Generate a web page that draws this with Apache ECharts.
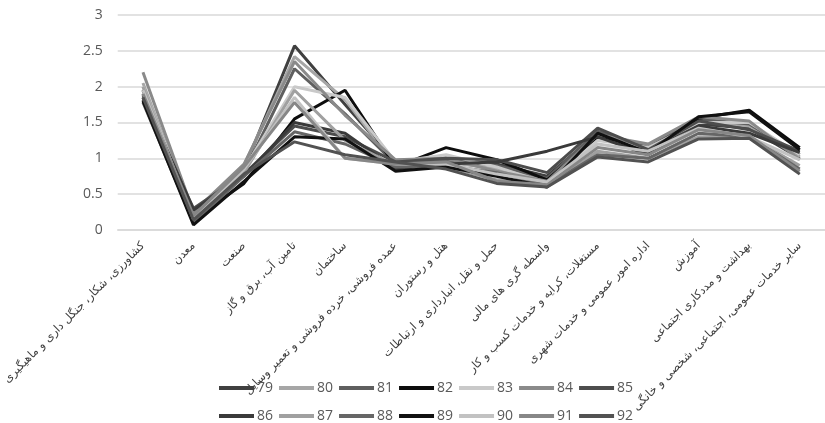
<!DOCTYPE html>
<html>
<head>
<meta charset="utf-8">
<script src="https://cdn.jsdelivr.net/npm/echarts@6/dist/echarts.min.js"></script>
<style>html,body{margin:0;padding:0;background:#fff}#c{width:825px;height:423px}</style>
</head>
<body>
<div id="c"></div>
<script>
const categories = [
  'کشاورزی، شکار، جنگل داری و ماهیگیری',
  'معدن',
  'صنعت',
  'تامین آب، برق و گاز',
  'ساختمان',
  'عمده فروشی، خرده فروشی و تعمیر وسایل',
  'هتل و رستوران',
  'حمل و نقل، انبارداری و ارتباطات',
  'واسطه گری های مالی',
  'مستغلات، کرایه و خدمات کسب و کار',
  'اداره امور عمومی و خدمات شهری',
  'آموزش',
  'بهداشت و مددکاری اجتماعی',
  'سایر خدمات عمومی، اجتماعی، شخصی و خانگی'
];
const seriesNames = ['79','80','81','82','83','84','85','86','87','88','89','90','91','92'];
const s79 = [1.85, 0.25, 0.85, 2.57, 1.75, 0.95, 1.00, 0.92, 0.75, 1.35, 1.12, 1.48, 1.42, 1.00];
const s80 = [2.05, 0.20, 0.90, 2.42, 1.82, 0.90, 0.95, 0.85, 0.70, 1.28, 1.18, 1.52, 1.45, 1.02];
const s81 = [1.90, 0.22, 0.80, 2.25, 1.62, 0.92, 0.98, 0.90, 0.72, 1.38, 1.15, 1.55, 1.48, 1.05];
const s82 = [1.95, 0.15, 0.65, 1.55, 1.95, 0.88, 1.15, 0.98, 0.70, 1.30, 1.10, 1.56, 1.67, 1.15];
const s83 = [2.00, 0.18, 0.85, 2.00, 1.85, 0.95, 1.05, 0.88, 0.65, 1.25, 1.15, 1.50, 1.50, 1.05];
const s84 = [2.20, 0.25, 0.92, 2.35, 1.60, 0.98, 1.00, 0.82, 0.68, 1.33, 1.20, 1.58, 1.52, 0.98];
const s85 = [1.82, 0.30, 0.78, 1.45, 1.30, 0.95, 1.00, 0.98, 0.80, 1.42, 1.12, 1.52, 1.40, 1.10];
const s86 = [1.88, 0.28, 0.75, 1.50, 1.35, 0.85, 0.92, 0.95, 1.10, 1.30, 1.05, 1.45, 1.35, 1.08];
const s87 = [2.00, 0.12, 0.80, 1.95, 1.25, 0.90, 0.88, 0.70, 0.60, 1.10, 1.00, 1.30, 1.30, 0.90];
const s88 = [1.78, 0.10, 0.75, 1.37, 1.20, 0.88, 0.90, 0.80, 0.62, 1.05, 1.00, 1.35, 1.30, 0.85];
const s89 = [1.80, 0.07, 0.68, 1.30, 1.27, 0.82, 0.88, 0.75, 0.60, 1.35, 1.08, 1.58, 1.65, 1.12];
const s90 = [1.95, 0.15, 0.85, 1.85, 1.00, 0.92, 0.92, 0.78, 0.67, 1.20, 1.10, 1.42, 1.30, 0.98];
const s91 = [1.90, 0.20, 0.88, 1.78, 1.00, 0.92, 0.95, 0.68, 0.63, 1.15, 1.05, 1.40, 1.32, 0.82];
const s92 = [1.85, 0.14, 0.78, 1.23, 1.05, 0.95, 0.85, 0.65, 0.60, 1.02, 0.95, 1.27, 1.28, 0.78];
const seriesValues = [s79,s80,s81,s82,s83,s84,s85,s86,s87,s88,s89,s90,s91,s92];
const colors = ['#404040','#a6a6a6','#5f5f5f','#0d0d0d','#c9c9c9','#8a8a8a','#4d4d4d',
                '#3a3a3a','#a0a0a0','#666666','#111111','#c2c2c2','#878787','#525252'];
const yTicks = [0, 0.5, 1, 1.5, 2, 2.5, 3];

const chart = echarts.init(document.getElementById('c'), null, {renderer:'canvas'});
const legendCommon = {
  icon: 'rect', itemWidth: 35, itemHeight: 4, itemGap: 6,
  textStyle: {color:'#595959', fontSize: 14, fontFamily: 'Open Sans, DejaVu Sans', padding:[0,0,0,-2]},
  selectedMode: false
};
chart.setOption({
  animation: false,
  color: colors,
  grid: {left: 115, right: -15, top: 15, bottom: 193},
  legend: [
    Object.assign({data: seriesNames.slice(0,7), left: 214, top: 376}, legendCommon),
    Object.assign({data: seriesNames.slice(7), left: 214, top: 404}, legendCommon)
  ],
  xAxis: {
    type: 'category', data: categories, boundaryGap: true,
    axisLine: {show: true, lineStyle: {color: '#d9d9d9', width: 1.5}},
    axisTick: {show: false},
    axisLabel: {interval: 0, rotate: 45, margin: 14, color: '#404040', fontSize: 11.5,
      fontFamily: 'DejaVu Sans'}
  },
  yAxis: {
    type: 'value', min: yTicks[0], max: yTicks[yTicks.length-1], interval: 0.5,
    axisLine: {show: false}, axisTick: {show: false},
    axisLabel: {color: '#595959', fontSize: 14, margin: 15, fontFamily: 'Open Sans, DejaVu Sans'},
    splitLine: {lineStyle: {color: '#d9d9d9', width: 1.5}}
  },
  series: seriesNames.map((n, i) => ({
    name: n, type: 'line', data: seriesValues[i], showSymbol: false, symbol: 'none',
    lineStyle: {width: 3, color: colors[i]}, itemStyle: {color: colors[i]}
  }))
});
</script>
</body>
</html>
